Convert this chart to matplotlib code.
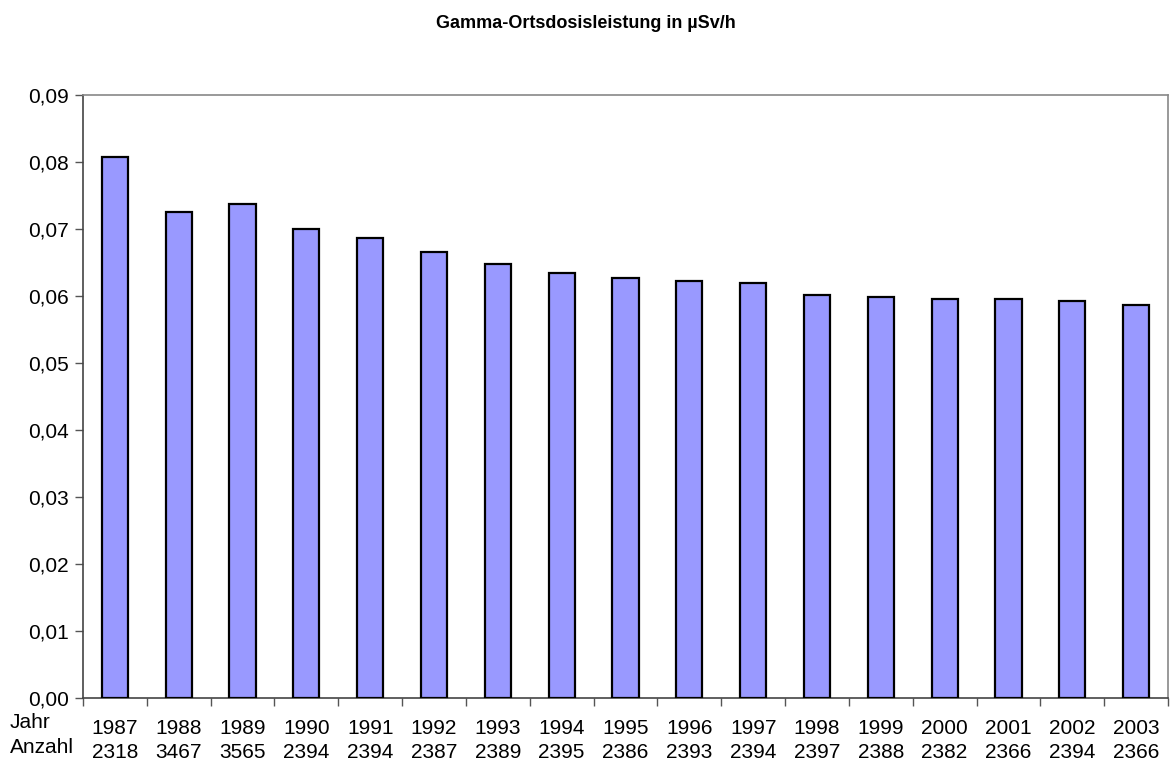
import matplotlib.pyplot as plt
from matplotlib.ticker import FuncFormatter

plt.rcParams['font.family'] = ['Liberation Sans', 'DejaVu Sans']

years = [1987, 1988, 1989, 1990, 1991, 1992, 1993, 1994, 1995,
         1996, 1997, 1998, 1999, 2000, 2001, 2002, 2003]
counts = [2318, 3467, 3565, 2394, 2394, 2387, 2389, 2395, 2386,
          2393, 2394, 2397, 2388, 2382, 2366, 2394, 2366]
dose = [0.0808, 0.0726, 0.0738, 0.0700, 0.0686, 0.0665, 0.0648, 0.0635, 0.0627,
        0.0623, 0.0620, 0.0602, 0.0598, 0.0596, 0.0595, 0.0592, 0.0586]

fig = plt.figure(figsize=(11.71, 7.61), dpi=100)
ax = fig.add_axes([83 / 1171, 1 - 698 / 761, (1168 - 83) / 1171, (698 - 95) / 761])

x = list(range(len(years)))
ax.bar(x, dose, width=0.41, color='#9999FF', edgecolor='black', linewidth=1.6, zorder=3)

ax.set_xlim(-0.5, len(years) - 0.5)
ax.set_ylim(0, 0.09)
ax.set_yticks([i / 100 for i in range(10)])
ax.yaxis.set_major_formatter(FuncFormatter(lambda v, p: f"{v:.2f}".replace('.', ',')))

# category boundaries get the tick marks, labels sit in the middle
ax.set_xticks([i - 0.5 for i in range(len(years) + 1)])
ax.set_xticklabels([])
ax.set_xticks(x, minor=True)
ax.set_xticklabels([f"{y}\n{c}" for y, c in zip(years, counts)], minor=True, linespacing=1.35)
ax.tick_params(axis='x', which='minor', length=0, pad=15, labelsize=15)
ax.tick_params(axis='x', which='major', length=6, width=1, color='#555555', direction='out')
ax.tick_params(axis='y', length=6, width=1, color='#555555', labelsize=15, pad=4)

for s in ['left', 'bottom']:
    ax.spines[s].set_color('#444444')
    ax.spines[s].set_linewidth(1.2)
for s in ['top', 'right']:
    ax.spines[s].set_color('#888888')
    ax.spines[s].set_linewidth(1.2)

fig.text(10 / 1171, 1 - 735 / 761, "Jahr\nAnzahl", ha='left', va='center', fontsize=15, linespacing=1.35)
fig.text(0.5, 1 - 23 / 761, "Gamma-Ortsdosisleistung in µSv/h", ha='center', va='center',
         fontsize=13, fontweight='bold')

fig.savefig('out.png', dpi=100)
